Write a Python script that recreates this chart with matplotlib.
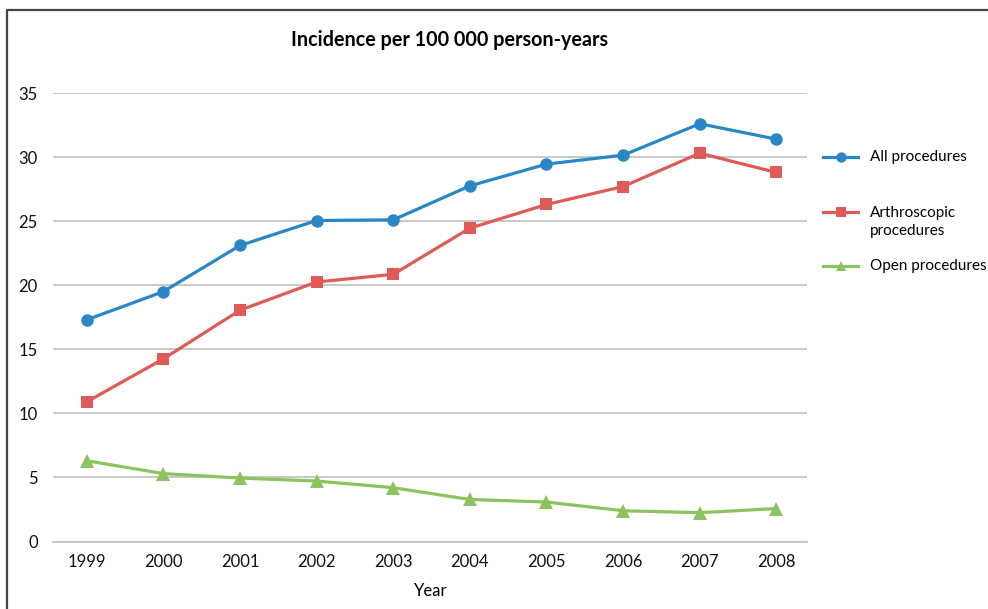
import matplotlib.pyplot as plt
from matplotlib.lines import Line2D

years = ["1999", "2000", "2001", "2002", "2003", "2004", "2005", "2006", "2007", "2008"]
all_procedures = [17.3, 19.5, 23.1, 25.05, 25.1, 27.75, 29.45, 30.15, 32.6, 31.4]
arthroscopic = [10.9, 14.25, 18.05, 20.25, 20.85, 24.45, 26.3, 27.7, 30.3, 28.8]
open_procedures = [6.3, 5.3, 4.95, 4.72, 4.2, 3.28, 3.08, 2.4, 2.25, 2.57]

series_names = ["All procedures", "Arthroscopic\nprocedures", "Open procedures"]
colors = ["#2b86c5", "#e05a57", "#8cc25f"]
markers = ["o", "s", "^"]

plt.rcParams['font.family'] = ['Lato', 'DejaVu Sans']

fig = plt.figure(figsize=(9.88, 6.09), dpi=100)
ax = fig.add_axes([53 / 988, 1 - 541.5 / 609, (807 - 53) / 988, (541.5 - 93) / 609])

x = list(range(len(years)))
for vals, c, m in zip([all_procedures, arthroscopic, open_procedures], colors, markers):
    ax.plot(x, vals, color=c, lw=2.3, marker=m, ms=9 if m != "^" else 9.5,
            markeredgewidth=0, zorder=3, clip_on=False)

ax.set_ylim(0, 35)
ax.set_yticks(range(0, 36, 5))
ax.set_xlim(-0.44, 9.4)
ax.set_xticks(x)
ax.set_xticklabels(years)
ax.grid(axis="y", color="#bfbfbf", lw=1.2)
ax.set_axisbelow(True)
for s in ["top", "right", "left"]:
    ax.spines[s].set_visible(False)
ax.spines["bottom"].set_color("#bfbfbf")
ax.spines["bottom"].set_linewidth(1.2)
ax.tick_params(axis="both", length=0, labelsize=12, colors="#111111")
ax.tick_params(axis="y", pad=11)
ax.tick_params(axis="x", pad=9)

fig.text(0.4555, 1 - 40 / 609, "Incidence per 100 000 person-years", ha="center", va="center",
         fontsize=14.2, fontweight="bold")
fig.text(431 / 988, 1 - 591 / 609, "Year", ha="center", va="center", fontsize=12)

# legend entries laid out by hand in figure coordinates
leg_y = [157, 212, 266]
text_y = [157, 222, 266]
for yy, ty, name, c, m in zip(leg_y, text_y, series_names, colors, markers):
    fy = 1 - yy / 609
    fig.add_artist(Line2D([823 / 988, 858 / 988], [fy, fy], color=c, lw=2.3,
                          transform=fig.transFigure))
    fig.add_artist(Line2D([840.5 / 988], [fy], color=c, marker=m, ms=7.5,
                          markeredgewidth=0, transform=fig.transFigure))
    fig.text(870 / 988, 1 - ty / 609, name, ha="left", va="center", fontsize=11,
             linespacing=1.45)

# outer chart frame (top and left edges)
fig.add_artist(Line2D([7 / 988, 7 / 988, 1.0], [0, 1 - 10 / 609, 1 - 10 / 609],
                      color="#444444", lw=1.6, transform=fig.transFigure))

fig.savefig("out.png", dpi=100, facecolor="white")
